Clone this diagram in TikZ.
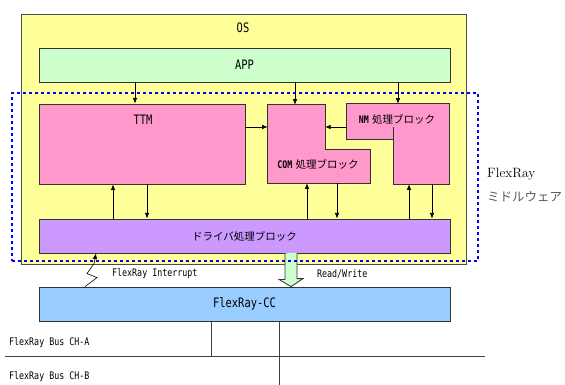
\documentclass[tikz,border=0pt]{standalone}
\usepackage{fontspec}
\usepackage{tikz}
\usetikzlibrary{arrows.meta,positioning,calc}
\usepackage{xcolor}
\newfontfamily\mono[FakeStretch=0.8]{DejaVu Sans Mono}
\newfontfamily\jp{Noto Sans CJK JP}
\definecolor{osyellow}{HTML}{FFFF99}
\definecolor{appgreen}{HTML}{CCFFCC}
\definecolor{blkpink}{HTML}{FF99CC}
\definecolor{drvpurple}{HTML}{CC99FF}
\definecolor{ccblue}{HTML}{99CCFF}
\tikzset{
  outline/.style = {draw=black!80, thick},
  box/.style     = {outline, rectangle, inner sep=0pt,
                    font=\mono\fontsize{13}{14}\selectfont},
  ghost/.style   = {rectangle, inner sep=0pt},
  lbl/.style     = {inner sep=0pt, font=\mono\fontsize{13}{14}\selectfont},
  small/.style   = {inner sep=0pt, anchor=west,
                    font=\mono\fontsize{10.4}{12}\selectfont},
  sig/.style     = {-{Latex[length=2mm,width=1.6mm]}, thick},
  mwframe/.style = {draw=blue, line width=2.5pt, dash pattern=on 3pt off 3pt,
                    rectangle, inner sep=0pt},
  bus/.style     = {draw=black!75, thick},
}

\begin{document}
\begin{tikzpicture}[x=1pt,y=-1pt]
\useasboundingbox (0,0) rectangle (565,385);
% OS and application
\node[box,fill=osyellow,draw=black!70,minimum width=445pt,minimum height=250pt] (os) at (243.5,139) {};
\node[lbl] (oslbl) at (243,28) {OS};
\node[box,fill=appgreen,minimum width=411pt,minimum height=34pt] (app) at (244.5,65) {APP};
% middleware blocks
\node[box,fill=blkpink,minimum width=206pt,minimum height=80pt] (ttm) at (142,144) {};
\node[lbl] (ttmlbl) at (143,120) {TTM};
\node[ghost,minimum width=102pt,minimum height=78pt] (com) at (319,144) {};
\coordinate (notch) at (325,149);
\draw[outline,fill=blkpink] (com.north west) -- (com.north -| notch) -- (notch)
  -- (notch -| com.east) -- (com.south east) -- (com.south west) -- cycle;
\node[inner sep=0pt] (comlbl) at (318,164) {{\mono\bfseries\fontsize{10.4}{12}\selectfont COM} {\jp\fontsize{10.5}{12}\selectfont 処理ブロック}};
\node[ghost,minimum width=102pt,minimum height=80pt] (nm) at (398,144) {};
\coordinate (nmstep) at (393,139);
\draw[outline,fill=blkpink] (nm.north west) -- (nm.north east) -- (nm.south east)
  -- (nm.south -| nmstep) -- (nmstep) -- (nmstep -| nm.west) -- cycle;
\draw[outline] (nmstep) -- ++(0,-12);
\node[inner sep=0pt] (nmlbl) at (397,119) {{\mono\bfseries\fontsize{10.4}{12}\selectfont NM} {\jp\fontsize{10.5}{12}\selectfont 処理ブロック}};
\node[box,fill=drvpurple,minimum width=411pt,minimum height=34pt,font=\jp\fontsize{10.5}{12}\selectfont] (drv) at (244.5,236) {ドライバ処理ブロック};
% controller
\node[box,fill=ccblue,minimum width=411pt,minimum height=34pt] (cc) at (244.5,304) {FlexRay-CC};
\coordinate (rw) at (291,0);
\draw[outline,fill=appgreen] ($(drv.south -| rw)+(-6,0)$) -- ++(0,26) -- ++(-6,0)
  -- (cc.north -| rw) -- ++(12,-8) -- ++(-6,0) -- ++(0,-26);
\node[mwframe,minimum width=466pt,minimum height=168pt] (mw) at (245,177) {};
% arrow columns
\coordinate (appttm) at (135,0);
\coordinate (appcom) at (295,0);
\coordinate (appnm) at (398,0);
\coordinate (ttmup) at (113,0);
\coordinate (ttmdn) at (147,0);
\coordinate (comup) at (307,0);
\coordinate (comdn) at (337,0);
\coordinate (nmup) at (409,0);
\coordinate (nmdn) at (432,0);
\coordinate (hrow) at (0,127);
\draw[sig] (app.south -| appttm) -- (ttm.north -| appttm);
\draw[sig] (app.south -| appcom) -- (com.north -| appcom);
\draw[sig] (app.south -| appnm) -- (nm.north -| appnm);
\draw[sig] (ttm.east |- hrow) -- (com.west |- hrow);
\draw[sig] (nm.west |- hrow) -- (notch |- hrow);
\draw[sig] (drv.north -| ttmup) -- (ttm.south -| ttmup);
\draw[sig] (ttm.south -| ttmdn) -- (drv.north -| ttmdn);
\draw[sig] (drv.north -| comup) -- (com.south -| comup);
\draw[sig] (com.south -| comdn) -- (drv.north -| comdn);
\draw[sig] (drv.north -| nmup) -- (nm.south -| nmup);
\draw[sig] (nm.south -| nmdn) -- (drv.north -| nmdn);
% interrupt
\coordinate (irq) at (85,0);
\draw[sig,line width=0.6pt] (cc.north -| irq) -- ++(12,-9) -- ++(-10,-4) -- ++(7,-10) -- (drv.south -| 96,0);
\node[small] (irqlbl) at (112,274) {FlexRay Interrupt};
\node[small] (rwlbl) at (317,274) {Read/Write};
% middleware label
\node[inner sep=0pt,anchor=west,font=\fontsize{13.5}{15}\selectfont] (mwlbl) at (487,174) {FlexRay};
\node[inner sep=0pt,anchor=west,text=black!65,font=\jp\fontsize{12.5}{14}\selectfont] (mwjp) at (487,197) {ミドルウェア};
% buses
\coordinate (busl) at (5,356);
\coordinate (busr) at (485,356);
\coordinate (bxa) at (211,0);
\coordinate (bxb) at (279,385);
\draw[bus] (busl) -- (busr);
\draw[bus] (cc.south -| bxa) -- (bxa |- busl);
\draw[bus] (cc.south -| bxb) -- (bxb);
\node[small] (chA) at (9,343) {FlexRay Bus CH-A};
\node[small] (chB) at (9,377) {FlexRay Bus CH-B};
\end{tikzpicture}
\end{document}
